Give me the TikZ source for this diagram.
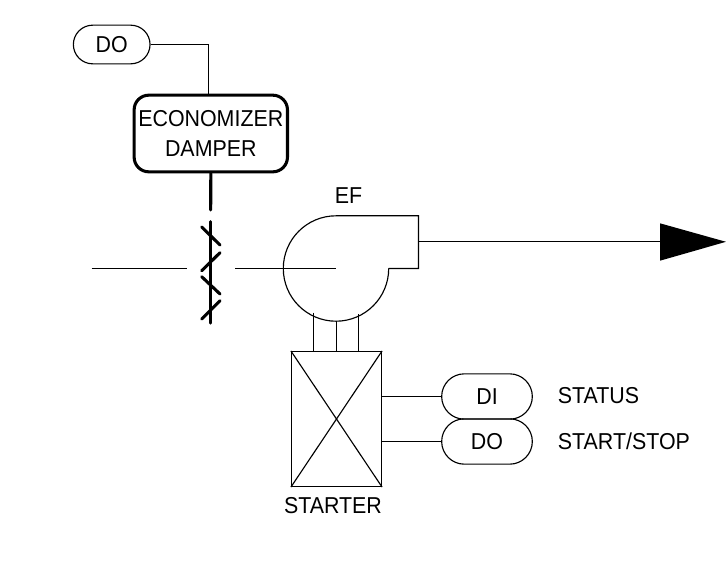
\documentclass[tikz,border=0pt]{standalone}
\usepackage{fontspec}
\setmainfont[FakeStretch=0.93]{Liberation Sans}
\usetikzlibrary{calc,shapes.misc}
\tikzset{
  thinline/.style={draw=black, line width=0.85pt},
  thickline/.style={draw=black, line width=2.3pt},
  pointtag/.style={thinline, rounded rectangle, minimum width=68pt, minimum height=34pt, inner sep=0pt},
  damperbox/.style={draw=black, line width=2.3pt, rounded corners=11pt, align=center,
    minimum width=115pt, minimum height=57.5pt, inner sep=0pt},
  starterbox/.style={thinline, minimum width=67.5pt, minimum height=101.25pt, inner sep=0pt},
  label/.style={inner sep=0pt}
}
\begin{document}
\begin{tikzpicture}[x=0.75pt, y=-0.75pt, font=\fontsize{17.25}{22.5}\selectfont]
  \useasboundingbox (0,0) rectangle (726,576);

  % top tag and damper actuator
  \node[pointtag, minimum width=57.5pt, minimum height=29pt] (dotop) at (111.7,44.5) {DO};
  \node[damperbox] (damper) at (210.8,133.5) {ECONOMIZER\\DAMPER};
  \coordinate (tee) at (208.5,44.5);
  \draw[thinline] (dotop.east) -- (tee) -- (tee |- damper.north);

  % damper blades
  \coordinate (stemend) at (210.7,210);
  \coordinate (bladetop) at (210.7,221.7);
  \coordinate (bladebot) at (210.7,323);
  \draw[thickline, line cap=round] (damper.south) -- (stemend);
  \draw[thickline, line cap=round] (bladetop) -- (bladebot);
  \foreach \xa/\ya/\xb/\yb in {201.7/227/220/245, 220/252.7/201.7/270.7, 201.7/276.7/220/294, 220/300.7/201.7/319}{
    \draw[thickline, line cap=round] (\xa,\ya) -- (\xb,\yb);
  }

  % duct in
  \coordinate (ductin) at (91.7,268.5);
  \coordinate (ductgap) at (186.7,268.5);
  \coordinate (ductout) at (235,268.5);
  \coordinate (fanc) at (336,268.5);
  \draw[thinline] (ductin) -- (ductgap);
  \draw[thinline] (ductout) -- (fanc);

  % fan casing
  \node[label] (eflabel) at (348.5,196) {EF};
  \draw[thinline] (388.7,268.5) arc[start angle=0, end angle=-270, radius=52.7*0.75pt]
    -- (418.5,215.8) -- (418.5,268.5) -- (388.7,268.5);
  \coordinate (fanexit) at (418.5,241.5);
  \coordinate (tipbase) at (660,241.5);
  \draw[thinline] (fanexit) -- (tipbase);
  \fill[black] (660,223.3) -- (726,241.8) -- (660,260.7) -- cycle;

  % starter
  \node[starterbox] (starter) at (336.5,419) {};
  \draw[thinline] (starter.north west) -- (starter.south east);
  \draw[thinline] (starter.north east) -- (starter.south west);
  \node[label] (starterlabel) at (333,505.7) {STARTER};
  \foreach \x/\yc/\name in {313.5/312.5/shafta, 336.5/321.2/shaftb, 358.5/314/shaftc}{
    \coordinate (\name) at (\x,\yc);
    \draw[thinline] (\name) -- (\name |- starter.north);
  }

  % status points
  \node[pointtag] (ditag) at (487,396.5) {DI};
  \node[pointtag] (dotag) at (487,441.5) {DO};
  \draw[thinline] (starter.east |- ditag.west) -- (ditag.west);
  \draw[thinline] (starter.east |- dotag.west) -- (dotag.west);
  \node[label, anchor=west] (statuslabel) at (557.7,396) {STATUS};
  \node[label, anchor=west] (startlabel) at (557.7,441.6) {START/STOP};
\end{tikzpicture}
\end{document}
